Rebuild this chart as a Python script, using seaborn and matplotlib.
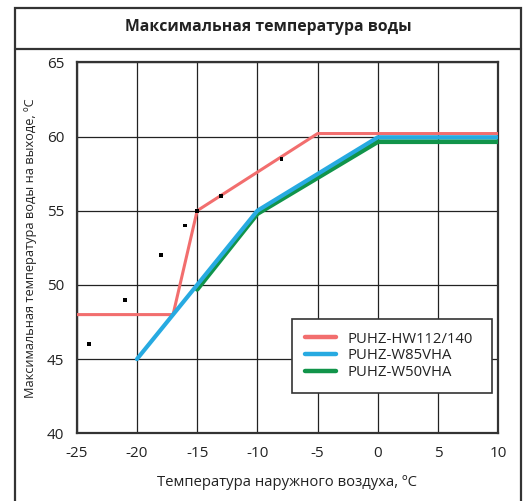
"""
Maximum outlet water temperature vs. outdoor air temperature for three PUHZ models.
"""

import matplotlib.pyplot as plt
from matplotlib.lines import Line2D
from matplotlib.patches import Rectangle
import pandas as pd
import seaborn as sns

# Data
hw112_x = [-25, -17, -15, -5, 10]
hw112_y = [48, 48, 55, 60.2, 60.2]
w85_x = [-20, -15, -10, 0, 10]
w85_y = [45, 50, 55, 59.95, 59.95]
w50_x = [-15, -10, 0, 10]
w50_y = [49.7, 54.8, 59.65, 59.65]
dots_x = [-24, -21, -18, -16, -15, -13, -8]
dots_y = [46, 49, 52, 54, 55, 56, 58.5]

x_ticks = [-25, -20, -15, -10, -5, 0, 5, 10]
y_ticks = [40, 45, 50, 55, 60, 65]

title = "Максимальная температура воды"
x_label = "Температура наружного воздуха, ºC"
y_label = "Максимальная температура воды на выходе, ºC"

series = [
    ("PUHZ-HW112/140", hw112_x, hw112_y, "#f26e6e", 2.2),
    ("PUHZ-W85VHA", w85_x, w85_y, "#27aae1", 3.0),
    ("PUHZ-W50VHA", w50_x, w50_y, "#11944a", 3.4),
]

sns.set_theme(style="white")
plt.rcParams["font.family"] = ["Open Sans", "DejaVu Sans"]
plt.rcParams["axes.unicode_minus"] = False

fig = plt.figure(figsize=(5.26, 5.01), dpi=100)
ax = fig.add_axes([0.1458, 0.1351, 0.8015, 0.7405])

# Draw green before blue so blue sits on top, as in the source
for name, xs, ys, color, lw in [series[0], series[2], series[1]]:
    df = pd.DataFrame({"x": xs, "y": ys})
    sns.lineplot(data=df, x="x", y="y", ax=ax, color=color, linewidth=lw,
                 sort=False, zorder=3)

dots = pd.DataFrame({"x": dots_x, "y": dots_y})
sns.scatterplot(data=dots, x="x", y="y", ax=ax, marker="s", s=7, color="black",
                edgecolor="none", zorder=4)

ax.set_xlim(-25, 10)
ax.set_ylim(40, 65)
ax.set_xticks(x_ticks)
ax.set_yticks(y_ticks)
ax.tick_params(axis="both", length=0, pad=9, labelsize=11, labelcolor="#222222")
ax.grid(True, color="#222222", linewidth=0.9)
ax.set_axisbelow(True)
for sp in ax.spines.values():
    sp.set_visible(True)
    sp.set_color("#333333")
    sp.set_linewidth(1.6)

ax.set_xlabel(x_label, fontsize=10.7, color="#222222", labelpad=10)
ax.set_ylabel(y_label, fontsize=9.2, color="#222222", labelpad=7)

handles = [Line2D([], [], color=c, linewidth=3.2) for _, _, _, c, _ in series]
leg = ax.legend(handles, [s[0] for s in series], loc="lower left",
                bbox_to_anchor=(0.511, 0.109, 0.474, 0.186), mode="expand",
                fontsize=10.7, frameon=True, fancybox=False, framealpha=1,
                edgecolor="#333333", handlelength=2.1, handletextpad=0.8,
                labelspacing=0.12, borderpad=0.85, borderaxespad=0)
leg.get_frame().set_linewidth(1.2)
for t in leg.get_texts():
    t.set_color("#222222")

# Outer frame with title strip
fig.patches.append(Rectangle((15 / 526, -0.05), 506 / 526, 1.05 - 8 / 501,
                             transform=fig.transFigure, fill=False,
                             edgecolor="#333333", linewidth=1.6))
fig.add_artist(Line2D([15 / 526, 521 / 526], [1 - 49 / 501, 1 - 49 / 501],
                      transform=fig.transFigure, color="#333333", linewidth=1.6))
fig.text(268 / 526, 1 - 27 / 501, title, ha="center", va="center",
         fontsize=11.3, fontweight="bold", color="#222222")

fig.savefig("out.png", dpi=100)
